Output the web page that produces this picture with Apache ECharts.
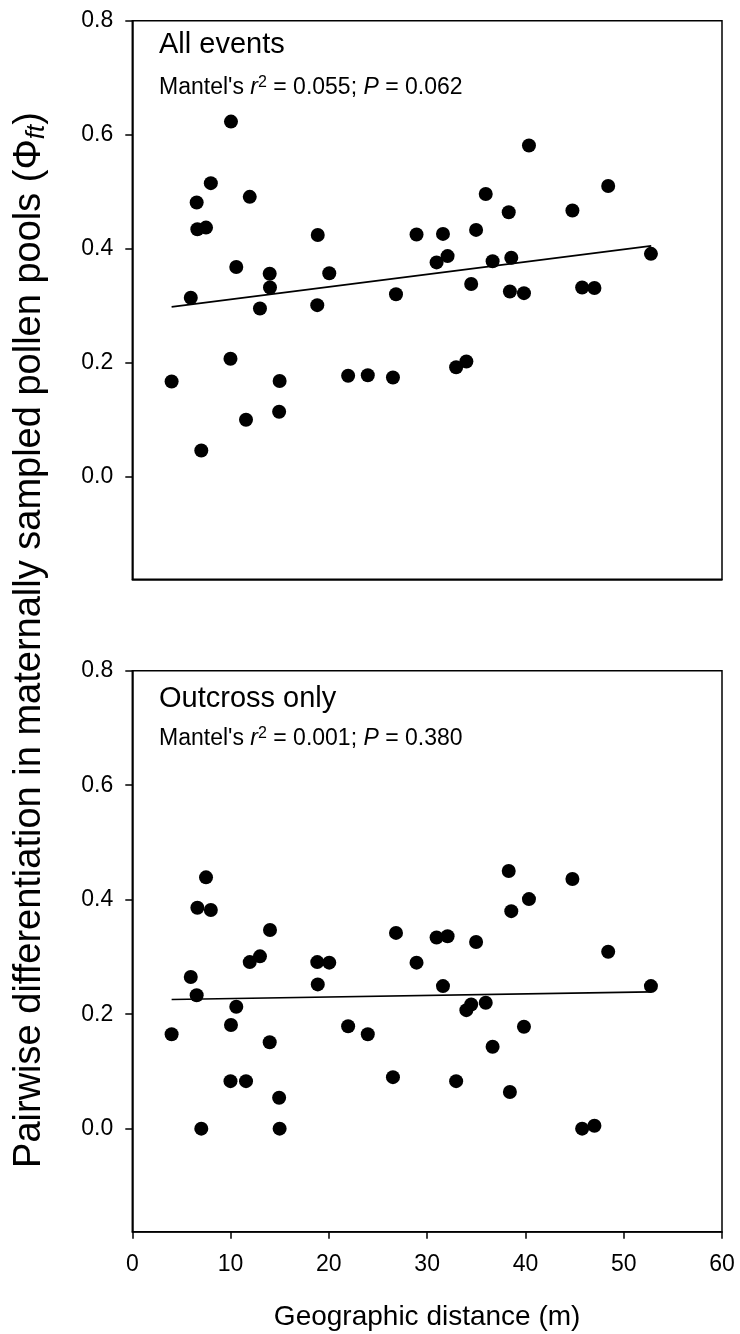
<!DOCTYPE html>
<html><head><meta charset="utf-8">
<script src="https://cdn.jsdelivr.net/npm/echarts@6/dist/echarts.min.js"></script>
<style>html,body{margin:0;padding:0;background:#fff}#c{width:740px;height:1334px}</style>
</head><body><div id="c"></div>
<script>
// Geographic distance (m) for each maternal pair
const distance = [4.0, 5.95, 6.55, 6.62, 7.02, 7.50, 7.99, 9.99, 10.04, 10.58,
  11.57, 11.95, 12.99, 13.98, 14.01, 14.94, 14.99, 18.82, 18.87, 20.04,
  21.96, 23.96, 26.52, 26.83, 28.92, 30.96, 31.61, 32.08, 32.95, 33.99,
  34.48, 34.98, 35.96, 36.66, 38.30, 38.42, 38.56, 39.85, 40.36, 44.78,
  45.77, 47.02, 48.42, 52.77];
// Phi_ft, all events
const phiAll = [0.167, 0.314, 0.481, 0.434, 0.046, 0.437, 0.515, 0.207, 0.623, 0.368,
  0.100, 0.491, 0.295, 0.356, 0.332, 0.114, 0.168, 0.301, 0.424, 0.357,
  0.177, 0.178, 0.174, 0.320, 0.425, 0.376, 0.426, 0.387, 0.192, 0.202,
  0.338, 0.433, 0.496, 0.378, 0.464, 0.325, 0.384, 0.322, 0.581, 0.467,
  0.332, 0.331, 0.510, 0.391];
// Phi_ft, outcross only
const phiOutcross = [0.165, 0.265, 0.233, 0.386, 0.000, 0.439, 0.382, 0.083, 0.181, 0.213,
  0.083, 0.291, 0.301, 0.151, 0.347, 0.054, 0.000, 0.291, 0.252, 0.290,
  0.179, 0.165, 0.090, 0.342, 0.290, 0.334, 0.249, 0.336, 0.083, 0.207,
  0.217, 0.326, 0.220, 0.143, 0.450, 0.064, 0.380, 0.178, 0.401, 0.436,
  0.000, 0.005, 0.309, 0.249];
// regression line end points
const fitX = [4.0, 52.8];
const fitAll = [0.298, 0.405];
const fitOutcross = [0.2255, 0.239];
const yTicks = [0, 0.2, 0.4, 0.6, 0.8];
const panelTitles = ['All events', 'Outcross only'];
const mantelR2 = ['0.055', '0.001'];
const mantelP = ['0.062', '0.380'];

const FONT = "'Liberation Sans', Arial, sans-serif";
const chart = echarts.init(document.getElementById('c'), null, {renderer: 'canvas'});

const grids = [
  {left: 132.3, top: 20.7, width: 589.7, height: 558.6},
  {left: 132.3, top: 670.7, width: 589.7, height: 561}
];
const axisLineStyle = {color: '#000', width: 1.5};

function yAxis(i) {
  return {
    type: 'value', gridIndex: i, min: -0.18, max: 0.8,
    axisLine: {show: true, lineStyle: axisLineStyle},
    axisTick: {show: true, length: 7, inside: false, customValues: yTicks, lineStyle: axisLineStyle},
    axisLabel: {customValues: yTicks, formatter: v => v.toFixed(1), fontSize: 23, color: '#000', fontFamily: FONT, margin: 19},
    splitLine: {show: false}
  };
}

const dotStyle = {color: '#000', opacity: 1};

const option = {
  backgroundColor: '#fff',
  animation: false,
  grid: grids.map(g => Object.assign({show: true, borderColor: '#000', borderWidth: 1.5, backgroundColor: 'transparent', containLabel: false}, g)),
  xAxis: [
    {type: 'value', gridIndex: 0, min: 0, max: 60, interval: 10,
      axisLine: {show: true, onZero: false, lineStyle: axisLineStyle},
      axisTick: {show: false}, axisLabel: {show: false}, splitLine: {show: false}},
    {type: 'value', gridIndex: 1, min: 0, max: 60, interval: 10,
      axisLine: {show: true, onZero: false, lineStyle: axisLineStyle},
      axisTick: {show: true, length: 7, lineStyle: axisLineStyle},
      axisLabel: {fontSize: 23, color: '#000', fontFamily: FONT, margin: 21},
      splitLine: {show: false},
      name: 'Geographic distance (m)', nameLocation: 'middle', nameGap: 72,
      nameTextStyle: {fontSize: 28, color: '#000', fontFamily: FONT}}
  ],
  yAxis: [yAxis(0), yAxis(1)],
  series: [
    {type: 'scatter', xAxisIndex: 0, yAxisIndex: 0, symbol: 'circle', symbolSize: 14,
      itemStyle: dotStyle, data: distance.map((x, i) => [x, phiAll[i]])},
    {type: 'line', xAxisIndex: 0, yAxisIndex: 0, showSymbol: false, symbol: 'none',
      lineStyle: {color: '#000', width: 1.6}, data: fitX.map((x, i) => [x, fitAll[i]])},
    {type: 'scatter', xAxisIndex: 1, yAxisIndex: 1, symbol: 'circle', symbolSize: 14,
      itemStyle: dotStyle, data: distance.map((x, i) => [x, phiOutcross[i]])},
    {type: 'line', xAxisIndex: 1, yAxisIndex: 1, showSymbol: false, symbol: 'none',
      lineStyle: {color: '#000', width: 1.6}, data: fitX.map((x, i) => [x, fitOutcross[i]])}
  ],
  graphic: [
    {type: 'text', x: 159, y: 45, style: {text: panelTitles[0], fontSize: 29, fontFamily: FONT, fill: '#000', verticalAlign: 'middle'}},
    {type: 'text', x: 159, y: 88, style: {
      text: "Mantel's {i|r}{sup|2} = " + mantelR2[0] + "; {i|P} = " + mantelP[0],
      fontSize: 23, fontFamily: FONT, fill: '#000', verticalAlign: 'middle', lineHeight: 26,
      rich: {i: {fontStyle: 'italic', fontSize: 23, fontFamily: FONT, lineHeight: 26},
             sup: {fontSize: 16, fontFamily: FONT, lineHeight: 14, verticalAlign: 'top'}}}},
    {type: 'text', x: 159, y: 699, style: {text: panelTitles[1], fontSize: 29, fontFamily: FONT, fill: '#000', verticalAlign: 'middle'}},
    {type: 'text', x: 159, y: 739, style: {
      text: "Mantel's {i|r}{sup|2} = " + mantelR2[1] + "; {i|P} = " + mantelP[1],
      fontSize: 23, fontFamily: FONT, fill: '#000', verticalAlign: 'middle', lineHeight: 26,
      rich: {i: {fontStyle: 'italic', fontSize: 23, fontFamily: FONT, lineHeight: 26},
             sup: {fontSize: 16, fontFamily: FONT, lineHeight: 14, verticalAlign: 'top'}}}},
    {type: 'text', x: 30, y: 640, rotation: Math.PI / 2, style: {
      text: 'Pairwise differentiation in maternally sampled pollen pools (Φ{sub|ft})',
      fontSize: 38, fontFamily: FONT, fill: '#000', align: 'center', verticalAlign: 'middle', lineHeight: 40,
      rich: {sub: {fontSize: 26, fontStyle: 'italic', fontFamily: FONT, lineHeight: 22, verticalAlign: 'bottom'}}}}
  ]
};
chart.setOption(option);
</script>
</body></html>
